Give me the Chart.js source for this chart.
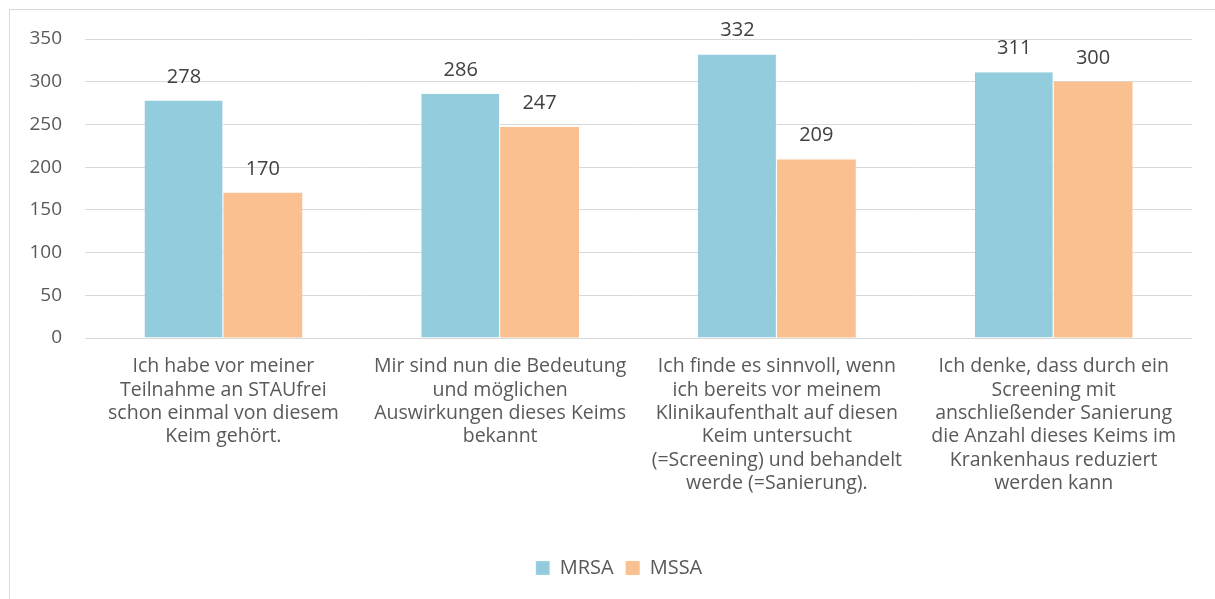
<!DOCTYPE html>
<html>
<head>
<meta charset="utf-8">
<script src="https://cdn.jsdelivr.net/npm/chart.js@4/dist/chart.umd.min.js"></script>
<style>
  body { margin: 0; background: #fff; }
  #wrap { width: 1215px; height: 599px; position: relative; }
</style>
</head>
<body>
<div id="wrap"><canvas id="myChart"></canvas></div>
<script>
'use strict'

const categories = [
  ['Ich habe vor meiner', 'Teilnahme an STAUfrei', 'schon einmal von diesem', 'Keim gehört.'],
  ['Mir sind nun die Bedeutung', 'und möglichen', 'Auswirkungen dieses Keims', 'bekannt'],
  ['Ich finde es sinnvoll, wenn', 'ich bereits vor meinem', 'Klinikaufenthalt auf diesen', 'Keim untersucht', '(=Screening) und behandelt', 'werde (=Sanierung).'],
  ['Ich denke, dass durch ein', 'Screening mit', 'anschließender Sanierung', 'die Anzahl dieses Keims im', 'Krankenhaus reduziert', 'werden kann']
];
const mrsaValues = [278, 286, 332, 311];
const mssaValues = [170, 247, 209, 300];
const yTicks = [0, 50, 100, 150, 200, 250, 300, 350];

const fontName = '"Open Sans", Lato, sans-serif';

// draws the light frame at top/left like in the original export
const framePlugin = {
  id: 'frame',
  beforeDraw(chart) {
    let ctx = chart.ctx;
    ctx.save();
    ctx.strokeStyle = '#d9d9d9';
    ctx.lineWidth = 1;
    ctx.strokeRect(9.5, 9.5, 1400, 800);
    ctx.restore();
  },
  // legend sits a bit right of the canvas centre in the original
  afterLayout(chart) {
    chart.legend.left += 46;
  }
};

// value labels above the bars
const valueLabels = {
  id: 'valueLabels',
  afterDatasetsDraw(chart) {
    let ctx = chart.ctx;
    ctx.save();
    ctx.font = '20px ' + fontName;
    ctx.fillStyle = '#404040';
    ctx.textAlign = 'center';
    ctx.textBaseline = 'alphabetic';
    chart.data.datasets.forEach(function(ds, i) {
      let meta = chart.getDatasetMeta(i);
      meta.data.forEach(function(bar, j) {
        ctx.fillText(ds.data[j], bar.x, bar.y - 18);
      });
    });
    ctx.restore();
  }
};

const data = {
  labels: categories,
  datasets: [{
    label: 'MRSA',
    data: mrsaValues,
    backgroundColor: '#93cddd',
    borderColor: '#ffffff',
    borderWidth: { right: 1 },
    borderSkipped: false
  }, {
    label: 'MSSA',
    data: mssaValues,
    backgroundColor: '#fac090',
    borderWidth: 0
  }]
};

const config = {
  type: 'bar',
  data: data,
  options: {
    responsive: true,
    maintainAspectRatio: false,
    animation: false,
    layout: { padding: { top: 39, right: 23, bottom: 11, left: 0 } },
    datasets: { bar: { categoryPercentage: 0.57, barPercentage: 1.0 } },
    scales: {
      x: {
        grid: { display: false, drawTicks: false },
        border: { display: false },
        ticks: {
          color: '#595959',
          font: { family: fontName, size: 19.5, lineHeight: 1.2 },
          padding: 17,
          maxRotation: 0,
          autoSkip: false
        },
        afterFit(scale) { scale.height = 208; }
      },
      y: {
        min: 0,
        max: 350,
        afterBuildTicks(scale) { scale.ticks = yTicks.map(v => ({ value: v })); },
        grid: { color: '#d9d9d9', lineWidth: 1, drawTicks: false },
        border: { display: false },
        ticks: {
          color: '#595959',
          font: { family: fontName, size: 19 },
          padding: 23
        },
        afterFit(scale) { scale.width = 85; }
      }
    },
    plugins: {
      legend: {
        position: 'bottom',
        labels: {
          color: '#595959',
          font: { family: fontName, size: 20 },
          boxWidth: 14,
          boxHeight: 14,
          padding: 12
        }
      },
      tooltip: { enabled: false }
    }
  },
  plugins: [framePlugin, valueLabels]
};

let myChart = new Chart(document.getElementById('myChart'), config);
</script>
</body>
</html>
